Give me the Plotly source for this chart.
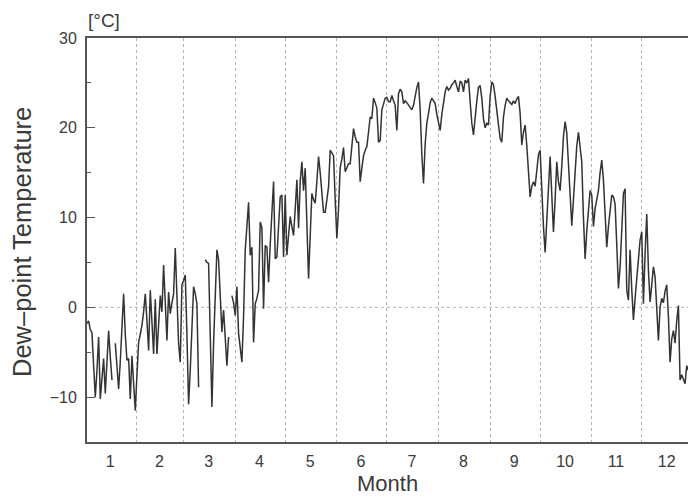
import plotly.graph_objects as go

# Daily dew-point temperature [°C], day 1 = Jan 1 (None = missing)
dew_point = [
    -1.8, -1.5, -2.5, -2.8, -6.5, -10.0, -7.0, -3.3, -10.2, -8.0,      # 1-10
    -5.7, -9.6, -6.0, -2.6, -5.5, -8.1, None, -4.0, -6.5, -9.1,        # 11-20
    -6.0, -2.0, 1.5, -3.0, -5.9, -5.7, -10.2, -5.4, -8.5, -11.5,       # 21-30
    -7.5, -3.9, -3.0, -2.0, -0.5, 1.5, -1.5, -4.8, 1.9, -2.0,          # 31-40
    -5.2, 0.9, -5.2, -2.0, 1.3, -0.5, 4.7, 0.5, -3.7, 1.7,             # 41-50
    -0.7, 0.5, 1.5, 6.6, 0.0, -4.0, -6.1, 2.5, 3.0, 3.6,               # 51-60
    -3.0, -10.8, -7.0, -1.5, 2.3, 1.5, 0.4, -8.9, None, None,          # 61-70
    None, 5.3, 5.0, 4.9, -3.0, -11.1, -4.0, 2.0, 6.4, 5.3,             # 71-80
    1.5, -2.75, -0.3, -3.5, -6.5, -3.3, None, 1.3, 0.5, -0.9,          # 81-90
    2.3, -2.9, -4.5, -6.1, -1.0, 6.4, 9.0, 11.7, 5.8, 6.7,             # 91-100
    -3.9, 0.4, 1.0, 1.9, 9.5, 8.9, -0.15, 6.9, 6.7, 2.8,               # 101-110
    7.0, 10.5, 14.0, 5.4, 5.6, 9.0, 12.3, 12.5, 5.6, 12.5,             # 111-120
    5.8, 8.0, 10.1, 9.0, 8.0, 11.0, 14.2, 8.8, 14.0, 16.2,             # 121-130
    13.0, 15.5, 10.0, 3.2, 8.0, 12.7, 12.0, 11.6, 14.0, 16.8,          # 131-140
    15.0, 12.5, 10.6, 10.6, 12.0, 13.4, 17.5, 17.2, 16.9, 12.0,        # 141-150
    7.7, 11.0, 15.6, 16.5, 17.8, 15.1, 15.5, 16.0, 16.0, 18.0,         # 151-160
    19.9, 19.0, 18.4, 18.4, 14.0, 15.5, 16.9, 17.5, 17.9, 19.5,        # 161-170
    21.2, 21.0, 23.3, 22.8, 22.2, 18.4, 18.6, 22.0, 22.8, 23.3,        # 171-180
    23.4, 22.9, 22.9, 23.6, 23.0, 22.5, 19.7, 23.8, 24.3, 24.0,        # 181-190
    22.7, 23.0, 22.8, 22.5, 22.2, 22.0, 22.5, 23.6, 24.5, 25.1,        # 191-200
    22.0, 17.0, 13.8, 18.2, 20.5, 21.6, 22.8, 23.3, 23.0, 22.7,        # 201-210
    21.5, 20.5, 19.7, 21.5, 23.0, 24.0, 24.6, 24.2, 24.4, 24.8,        # 211-220
    25.0, 25.3, 24.6, 24.0, 25.2, 25.0, 24.0, 25.3, 25.0, 25.5,        # 221-230
    22.9, 20.5, 19.2, 21.6, 23.0, 24.5, 24.7, 23.3, 21.0, 20.0,        # 231-240
    20.5, 20.3, 23.5, 25.1, 24.8, 23.5, 22.0, 20.5, 18.8, 18.4,        # 241-250
    21.2, 22.5, 23.3, 23.0, 22.8, 22.6, 23.0, 22.7, 23.2, 23.5,        # 251-260
    21.6, 18.1, 19.5, 20.3, 18.0, 14.5, 12.3, 13.5, 14.0, 13.5,        # 261-270
    15.5, 17.0, 17.5, 12.3, 9.0, 6.1, 10.0, 14.0, 16.8, 12.5,          # 271-280
    8.4, 12.0, 16.2, 14.0, 13.0, 15.7, 19.0, 20.7, 19.4, 16.0,         # 281-290
    12.0, 9.1, 12.0, 15.6, 18.0, 19.5, 17.5, 16.2, 10.0, 5.4,          # 291-300
    8.5, 10.8, 13.0, 12.5, 9.0, 11.0, 12.1, 13.0, 15.0, 16.4,          # 301-310
    14.2, 10.0, 6.7, 9.0, 11.0, 12.5, 12.3, 11.5, 7.0, 2.1,            # 311-320
    4.5, 9.0, 12.7, 13.2, 1.9, 0.8, 6.4, 2.0, -1.4, 1.0,               # 321-330
    3.4, 6.0, 7.5, 8.4, 0.4, 6.0, 10.4, 4.1, 0.6, 2.5,                 # 331-340
    4.5, 3.4, 0.0, -3.7, 0.0, 1.0, 0.5, 1.8, 2.5, -1.0,                # 341-350
    -6.1, -3.5, -2.6, -4.0, -1.5, 0.2, -8.1, -7.5, -8.0, -8.5,         # 351-360
    -6.5, -7.0,                                                        # 361-362
]
day = list(range(1, len(dew_point) + 1))

month_days = [31, 28, 31, 30, 31, 30, 31, 31, 30, 31, 30, 31]
month_labels = [str(m) for m in range(1, 13)]
month_starts = [sum(month_days[:k]) for k in range(12)]
month_centers = [s + d / 2 - 0.5 for s, d in zip(month_starts, month_days)]
month_bounds = month_starts[1:]

y_ticks = [-10, 0, 10, 20, 30]

FONT = "Liberation Sans, Arial, sans-serif"
TXT = "#3a3a3a"
AX = "#555555"

fig = go.Figure()
fig.add_trace(go.Scatter(
    x=day, y=dew_point, mode="lines",
    line=dict(color="#333333", width=1.5),
    connectgaps=False, showlegend=False, hoverinfo="x+y",
))

fig.update_layout(
    width=688, height=497,
    margin=dict(l=87, r=0, t=38, b=55),
    paper_bgcolor="white", plot_bgcolor="white",
    font=dict(family=FONT, color=TXT),
    showlegend=False,
    xaxis=dict(
        range=[1.02, 361.76],
        tickmode="array", tickvals=month_centers, ticktext=month_labels,
        ticks="", showgrid=False, zeroline=False,
        showline=True, linecolor=AX, linewidth=2, mirror=True,
        tickfont=dict(size=16, color=TXT),
        ticklabelstandoff=4,
        minor=dict(tickmode="array", tickvals=month_bounds, showgrid=True,
                   gridcolor="#b5b5b5", griddash="dot", gridwidth=1, ticks=""),
    ),
    yaxis=dict(
        range=[-15, 30],
        tickmode="array", tickvals=y_ticks,
        ticks="inside", ticklen=8, tickwidth=1.2, tickcolor=AX,
        showgrid=False, zeroline=False,
        showline=True, linecolor=AX, linewidth=2,
        tickfont=dict(size=16, color=TXT),
        ticklabelstandoff=5,
        minor=dict(dtick=5, ticks="inside", ticklen=4, tickcolor=AX, showgrid=False),
    ),
    shapes=[dict(type="line", xref="paper", x0=0, x1=1, yref="y", y0=0, y1=0,
                 line=dict(color="#b5b5b5", width=1, dash="dot"), layer="below")],
    annotations=[
        dict(text="Month", xref="paper", yref="paper", x=0.5, y=0,
             xanchor="center", yanchor="middle", yshift=-41, showarrow=False,
             font=dict(size=22, color=TXT, family=FONT)),
        dict(text="Dew\u2013point Temperature", xref="paper", yref="paper", x=0, y=0.5,
             xanchor="center", yanchor="middle", xshift=-65, yshift=-2, textangle=-90,
             showarrow=False, font=dict(size=25.5, color=TXT, family=FONT)),
        dict(text="[°C]", xref="paper", yref="paper", x=0, y=1,
             xanchor="left", yanchor="middle", xshift=-1, yshift=18, showarrow=False,
             font=dict(size=19, color=TXT, family=FONT)),
    ],
)

fig.write_html(
    "out.html",
    config={"displayModeBar": False},
    post_script="document.body.style.margin='0px';document.body.style.overflow='hidden';",
)
